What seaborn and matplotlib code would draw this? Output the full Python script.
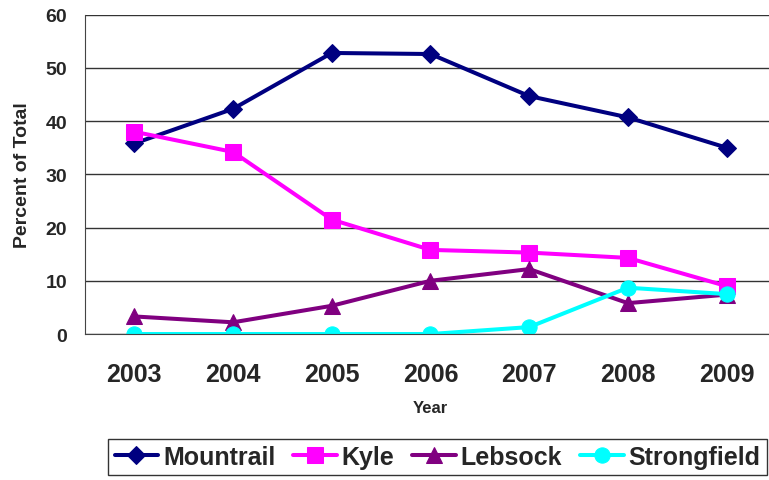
"""
Share of total by area, 2003-2009
"""
import pandas as pd
import seaborn as sns
import matplotlib.pyplot as plt


YEARS = ['2003', '2004', '2005', '2006', '2007', '2008', '2009']
MOUNTRAIL = [35.8, 42.3, 52.8, 52.6, 44.7, 40.7, 35.0]
KYLE = [38.0, 34.2, 21.5, 15.8, 15.3, 14.3, 9.0]
LEBSOCK = [3.3, 2.2, 5.3, 10.0, 12.2, 5.8, 7.4]
STRONGFIELD = [0.0, 0.0, 0.0, 0.0, 1.3, 8.7, 7.5]
SERIES = ['Mountrail', 'Kyle', 'Lebsock', 'Strongfield']
COLORS = {'Mountrail': '#000080', 'Kyle': '#FF00FF',
          'Lebsock': '#800080', 'Strongfield': '#00FFFF'}
MARKERS = {'Mountrail': 'D', 'Kyle': 's', 'Lebsock': '^', 'Strongfield': 'o'}
SIZES = {'Mountrail': 9.5, 'Kyle': 11, 'Lebsock': 11, 'Strongfield': 11}

sns.set_style("white")
plt.rcParams['font.family'] = ['Liberation Sans', 'DejaVu Sans']

values = dict(zip(SERIES, [MOUNTRAIL, KYLE, LEBSOCK, STRONGFIELD]))
df = pd.DataFrame([
    {'idx': i, 'year': y, 'area': name, 'pct': v}
    for name in SERIES for i, (y, v) in enumerate(zip(YEARS, values[name]))
])

fig = plt.figure(figsize=(7.69, 4.81), dpi=100)
ax = fig.add_axes([0.1105, 0.3035, 0.8986, 0.664])

for name in SERIES:
    sns.lineplot(
        data=df[df.area == name], x='idx', y='pct',
        color=COLORS[name], marker=MARKERS[name], markersize=SIZES[name],
        markeredgecolor=COLORS[name], linewidth=2.9, label=name, ax=ax,
    )

ax.set_ylim(0, 60)
ax.set_yticks(range(0, 61, 10))
ax.set_xlim(-0.5, 6.5)
ax.set_xticks([i - 0.5 for i in range(8)])
ax.set_xticklabels([])
ax.set_xticks(range(7), minor=True)
ax.set_xticklabels(YEARS, minor=True, fontsize=18, fontweight='bold')
ax.tick_params(axis='x', which='major', direction='out', length=5, color='#444444')
ax.tick_params(axis='x', which='minor', length=0, pad=20)
ax.tick_params(axis='y', direction='out', length=6, pad=7, color='#444444',
               labelsize=14)
for lbl in ax.get_yticklabels():
    lbl.set_fontweight('bold')

ax.yaxis.grid(True, color='#333333', linewidth=1)
ax.set_axisbelow(True)
for side in ['top', 'right']:
    ax.spines[side].set_visible(False)
for side in ['left', 'bottom']:
    ax.spines[side].set_color('#444444')

ax.set_xlabel("Year", fontsize=12, fontweight='bold', labelpad=10)
ax.set_ylabel("Percent of Total", fontsize=14, fontweight='bold', labelpad=10)

ax.legend_.remove()
handles, labels = ax.get_legend_handles_labels()
fig.legend(handles, labels, loc='center', bbox_to_anchor=(0.569, 0.048), ncol=4,
           frameon=True, fancybox=False, edgecolor='black', handlelength=1.75,
           handletextpad=0.2, columnspacing=0.7, borderpad=0.25,
           borderaxespad=0, prop={'size': 18, 'weight': 'bold'})

fig.savefig("out.png", dpi=100)
